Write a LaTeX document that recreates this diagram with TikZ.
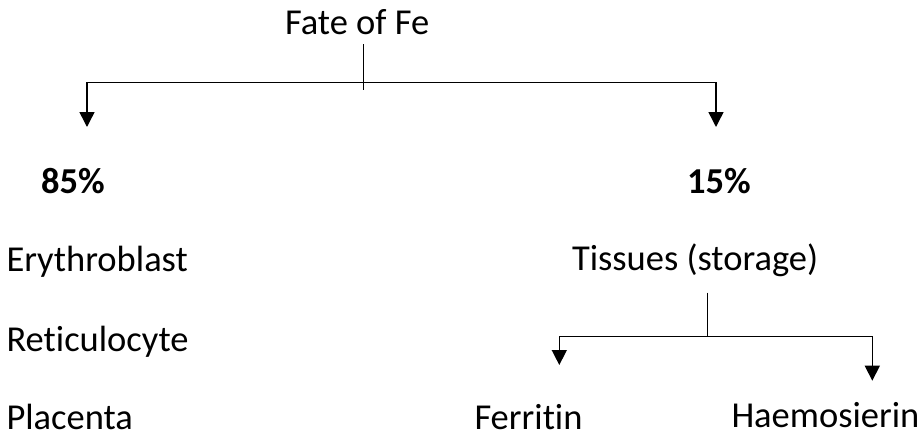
\documentclass[tikz,border=0pt]{standalone}
\usepackage{fontspec}
\setmainfont{Carlito}[Ligatures=NoCommon]
\usetikzlibrary{arrows.meta}
\tikzset{
  lbl/.style={anchor=base west, inner sep=0pt, outer sep=0pt, font=\fontsize{36.5}{40}\selectfont},
  bld/.style={lbl, font=\fontsize{36.5}{40}\selectfont\bfseries},
  conn/.style={line width=1.5pt, line join=miter},
  arr/.style={conn, {Triangle[width=15pt,length=15pt]}-{Triangle[width=15pt,length=15pt]}}
}
\begin{document}
\begin{tikzpicture}[x=1pt,y=-1pt]
\useasboundingbox (0,0) rectangle (924,436);
% texts
\node[lbl] (fate) at (285,35) {Fate of Fe};
\node[bld] (p85) at (41,193.3) {85\%};
\node[bld] (p15) at (687,193.3) {15\%};
\node[lbl] (ery) at (6.5,271.7) {Erythroblast};
\node[lbl] (ret) at (6.5,351) {Reticulocyte};
\node[lbl] (pla) at (6.5,429.3) {Placenta};
\node[lbl] (tis) at (572,270) {Tissues (storage)};
\node[lbl] (fer) at (474.5,429.3) {Ferritin};
\node[lbl] (hae) at (731.5,427) {Haemosierin};
% first bracket
\coordinate (s1top) at (363.3,44.3);
\coordinate (s1bot) at (363.3,90);
\coordinate (b1l) at (87,82.7);
\coordinate (b1r) at (716,82.7);
\coordinate (a85) at (87,127);
\coordinate (a15) at (716,127);
\draw[conn] (s1top) -- (s1bot);
\draw[arr] (a85) -- (b1l) -- (b1r) -- (a15);
% second bracket
\coordinate (s2top) at (707.7,292.7);
\coordinate (s2bot) at (707.7,336.7);
\coordinate (b2l) at (559.3,336.7);
\coordinate (b2r) at (872.3,336.7);
\coordinate (afer) at (559.3,365);
\coordinate (ahae) at (872.3,380.7);
\draw[conn] (s2top) -- (s2bot);
\draw[arr] (afer) -- (b2l) -- (b2r) -- (ahae);
\end{tikzpicture}
\end{document}
